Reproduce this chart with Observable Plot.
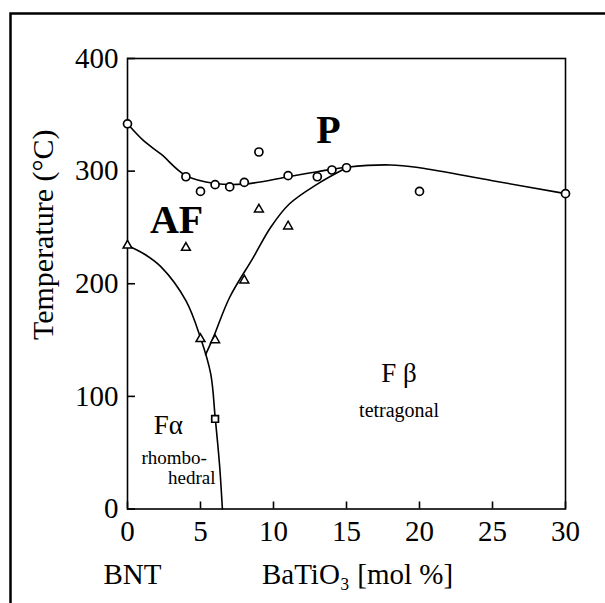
<!DOCTYPE html>
<html>
<head>
<meta charset="utf-8">
<script src="https://cdn.jsdelivr.net/npm/d3@7"></script>
<script src="https://cdn.jsdelivr.net/npm/@observablehq/plot@0.6"></script>
<style>
  html, body { margin: 0; padding: 0; background: #fff; }
  #chart { width: 605px; height: 603px; overflow: hidden; }
</style>
</head>
<body>
<div id="chart"></div>
<script>
// Tick values
const xTicks = [0, 5, 10, 15, 20, 25, 30];
const yTicks = [0, 100, 200, 300, 400];

// Measured points: circles (paraelectric transition)
const circX = [0, 4, 5, 6, 7, 8, 9, 11, 13, 14, 15, 20, 30];
const circT = [342, 295, 282, 288, 286, 290, 317, 296, 295, 301, 303, 282, 280];
// Triangles
const triX = [0, 4, 5, 6, 8, 9, 11];
const triT = [234, 232, 151, 150, 203, 266, 251];
// Square
const sqX = [6];
const sqT = [80];

// Phase boundary curves
const upperX = [0, 1.1, 2.3, 4, 6, 8, 11, 13, 15, 18, 20, 25, 30];
const upperT = [342, 327, 315, 296, 289, 288.5, 295, 299.5, 303.5, 305.5, 303, 291.5, 280];
const leftX = [0, 1.2, 2.3, 4, 5, 5.7, 6, 6.3, 6.5];
const leftT = [234, 226, 215, 185, 152, 120, 82, 40, 0];
const rightX = [5.35, 5.9, 7, 8.6, 9.8, 11.1, 13, 15];
const rightT = [137, 153, 188, 223, 250, 271, 288.5, 303];

// Region labels
const boldLabels = ["P", "AF"];
const boldX = [13.77, 3.36];
const boldT = [336, 256];
const phaseLabels = ["Fα", "F β"];
const phaseX = [2.8, 18.6];
const phaseT = [74, 120];
const smallLabels = ["rhombo-", "hedral", "tetragonal"];
const smallX = [3.2, 4.4, 18.6];
const smallT = [45, 27.5, 87];
const smallSize = [19, 19, 20];

const pts = (xs, ys) => xs.map((x, i) => ({x, y: ys[i]}));
const lab = (ts, xs, ys) => ts.map((t, i) => ({t, x: xs[i], y: ys[i]}));

const serif = "'Liberation Serif', 'Times New Roman', serif";
const W = 605, H = 603, ML = 127, MR = 40, MT = 58, MB = 94.5;
const fw = W - ML - MR, fh = H - MT - MB;

const chart = Plot.plot({
  width: W,
  height: H,
  marginLeft: ML,
  marginRight: MR,
  marginTop: MT,
  marginBottom: MB,
  style: {fontFamily: serif, fontSize: "29px", background: "#fff", color: "#000"},
  x: {domain: [0, 30]},
  y: {domain: [0, 400]},
  marks: [
    // outer border of the figure
    Plot.frame({stroke: "#000", strokeWidth: 2.5, insetLeft: -117, insetTop: -45, insetRight: -50, insetBottom: -110}),
    Plot.frame({stroke: "#000", strokeWidth: 1.6}),
    Plot.axisX({ticks: xTicks, tickSize: 0, tickPadding: 11, label: null, fontSize: 29, fontFamily: serif}),
    Plot.axisY({ticks: yTicks, tickSize: 0, tickPadding: 9, label: null, fontSize: 29, fontFamily: serif}),
    // inward ticks
    Plot.ruleX(xTicks, {x: d => d, insetTop: fh - 7, stroke: "#000", strokeWidth: 1.6}),
    Plot.ruleY(yTicks, {y: d => d, insetRight: fw - 8, stroke: "#000", strokeWidth: 1.6}),
    // curves
    Plot.line(pts(upperX, upperT), {x: "x", y: "y", curve: "catmull-rom", stroke: "#000", strokeWidth: 1.6}),
    Plot.line(pts(leftX, leftT), {x: "x", y: "y", curve: "catmull-rom", stroke: "#000", strokeWidth: 1.6}),
    Plot.line(pts(rightX, rightT), {x: "x", y: "y", curve: "catmull-rom", stroke: "#000", strokeWidth: 1.6}),
    // data points
    Plot.dot(pts(circX, circT), {x: "x", y: "y", r: 4, fill: "#fff", stroke: "#000", strokeWidth: 1.7}),
    Plot.dot(pts(triX, triT), {x: "x", y: "y", r: 3.3, symbol: "triangle", fill: "#fff", stroke: "#000", strokeWidth: 1.5}),
    Plot.dot(pts(sqX, sqT), {x: "x", y: "y", r: 3.8, symbol: "square", fill: "#fff", stroke: "#000", strokeWidth: 1.7}),
    // region labels
    Plot.text(lab(boldLabels, boldX, boldT), {x: "x", y: "y", text: "t", fontSize: 40, fontWeight: "bold", fontFamily: serif, fill: "#000"}),
    Plot.text(lab(phaseLabels, phaseX, phaseT), {x: "x", y: "y", text: "t", fontSize: 27, fontFamily: serif, fill: "#000"}),
    Plot.text(lab(smallLabels, smallX, smallT), {x: "x", y: "y", text: "t", fontSize: (d, i) => smallSize[i], fontFamily: serif, fill: "#000"}),
    // axis titles
    Plot.text(["Temperature (°C)"], {frameAnchor: "left", textAnchor: "middle", rotate: -90, dx: -84, dy: -49, fontSize: 30, fontFamily: serif, fill: "#000"}),
    Plot.text(["BNT"], {frameAnchor: "bottom-left", textAnchor: "middle", lineAnchor: "bottom", dx: 5, dy: 74.5, fontSize: 29, fontFamily: serif, fill: "#000"}),
    Plot.text(["BaTiO₃ [mol %]"], {frameAnchor: "bottom", textAnchor: "middle", lineAnchor: "bottom", dx: 11, dy: 74.5, fontSize: 29, fontFamily: serif, fill: "#000"})
  ]
});
document.getElementById("chart").appendChild(chart);
</script>
</body>
</html>
